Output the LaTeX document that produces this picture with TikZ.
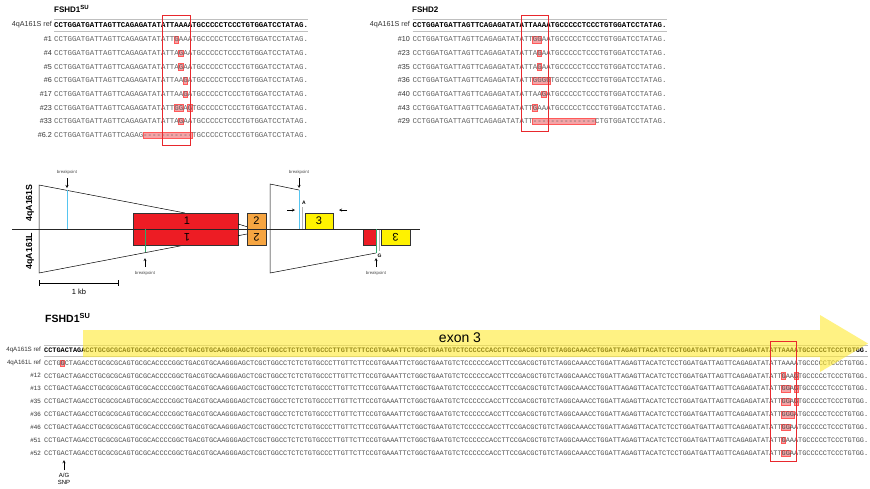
\documentclass[tikz,border=0pt]{standalone}
\usepackage{fontspec}
\setmainfont{Liberation Sans}
\newfontfamily\seqmono[Ligatures=TeXOff]{Liberation Mono}
\usepackage{xcolor}
\usepackage{tikz}
\usetikzlibrary{positioning}

\definecolor{exred}{HTML}{ED1C24}
\definecolor{exorange}{HTML}{F6A541}
\definecolor{exyellow}{HTML}{FFF200}
\definecolor{bpblue}{HTML}{56C5F0}
\definecolor{bpgreen}{HTML}{2EAA6A}
\definecolor{arrowyellow}{HTML}{FFE930}
\definecolor{hlred}{HTML}{F4A3A6}
\definecolor{boxred}{HTML}{E8282D}

% sequence pieces
\newcommand{\toppre}{CCTGGATGATTAGTTCAGAGATATATT}
\newcommand{\toppost}{TGCCCCCTCCCTGTGGATCCTATAG.}
\newcommand{\botmid}{CTAGACCTGCGCGCAGTGCGCACCCCGGCTGACGTGCAAGGGAGCTCGCTGGCCTCTCTGTGCCCTTGTTCTTCCGTGAAATTCTGGCTGAATGTCTCCCCCCACCTTCCGACGCTGTCTAGGCAAACCTGGATTAGAGTTACATCTCCTGGATGATTAGTTCAGAGATATATT}
\newcommand{\botpost}{TGCCCCCTCCCTGTGG.}

% x0, pitch, y, first col, last col
\newcommand{\hlcol}[5]{\draw[hl] ({#1+#2*#4},{#3-3.2}) rectangle ({#1+#2*(#5+1)},{#3+3.2});}

\tikzset{
  hdr/.style={anchor=west, font=\bfseries\fontsize{8}{9}\selectfont},
  rowlab/.style={anchor=east, font=\fontsize{7.2}{8}\selectfont, text=black!80},
  botlab/.style={anchor=east, font=\fontsize{6.2}{7}\selectfont, text=black!80},
  seqtop/.style={anchor=west, font=\seqmono\fontsize{7.42}{8}\selectfont, text=black!62},
  seqref/.style={anchor=west, font=\seqmono\bfseries\fontsize{7.42}{8}\selectfont, text=black},
  seqbot/.style={anchor=west, font=\seqmono\fontsize{6.867}{8}\selectfont, text=black!70},
  seqbotref/.style={anchor=west, font=\seqmono\bfseries\fontsize{6.867}{8}\selectfont, text=black},
  hl/.style={fill=hlred, draw=red!65, line width=0.4pt},
  mutbox/.style={draw=boxred, line width=0.9pt},
  refline/.style={draw=black!25, line width=0.6pt},
  exon/.style={draw=black!80, line width=0.4pt, minimum height=32pt},
  exnum/.style={font=\fontsize{11}{12}\selectfont},
  bp/.style={font=\fontsize{4.3}{5}\selectfont, text=black!70},
  bparrow/.style={->, line width=0.4pt},
  trap/.style={draw=black, line width=0.5pt},
}

\begin{document}
\begin{tikzpicture}[x=1pt, y=-1pt, >=stealth, every node/.style={inner sep=0pt}]
\useasboundingbox (0,0) rectangle (870,488);

% ---- FSHD1 SU (top left)
\node[hdr] (t1) at (54,9) {FSHD1\textsuperscript{SU}};
\draw[refline] (54,19) -- (308,19) (54,31) -- (308,31);
\hlcol{54}{4.45}{39.5}{27}{27}
\hlcol{54}{4.45}{53.2}{28}{28}
\hlcol{54}{4.45}{66.8}{28}{28}
\hlcol{54}{4.45}{80.5}{29}{29}
\hlcol{54}{4.45}{94.1}{29}{29}
\hlcol{54}{4.45}{107.8}{27}{28}
\hlcol{54}{4.45}{107.8}{30}{30}
\hlcol{54}{4.45}{121.4}{28}{28}
\hlcol{54}{4.45}{135.1}{20}{30}
\node[rowlab] (a0) at (52,25) {4qA161S ref};
\node[seqref] (sa0) at (54,25) {\toppre AAAA\toppost};
\node[rowlab] (a1) at (52,39.5) {\#1};
\node[seqtop] (sa1) at (54,39.5) {\toppre GAAA\toppost};
\node[rowlab] (a2) at (52,53.2) {\#4};
\node[seqtop] (sa2) at (54,53.2) {\toppre AGAA\toppost};
\node[rowlab] (a3) at (52,66.8) {\#5};
\node[seqtop] (sa3) at (54,66.8) {\toppre AGAA\toppost};
\node[rowlab] (a4) at (52,80.5) {\#6};
\node[seqtop] (sa4) at (54,80.5) {\toppre AAGA\toppost};
\node[rowlab] (a5) at (52,94.1) {\#17};
\node[seqtop] (sa5) at (54,94.1) {\toppre AAGA\toppost};
\node[rowlab] (a6) at (52,107.8) {\#23};
\node[seqtop] (sa6) at (54,107.8) {\toppre GGAG\toppost};
\node[rowlab] (a7) at (52,121.4) {\#33};
\node[seqtop] (sa7) at (54,121.4) {\toppre AGAA\toppost};
\node[rowlab] (a8) at (52,135.1) {\#6.2};
\node[seqtop] (sa8) at (54,135.1) {CCTGGATGATTAGTTCAGAG-----------TGCCCCCTCCCTGTGGATCCTATAG.};
\draw[mutbox] (162.5,15) rectangle (190.5,145);

% ---- FSHD2 (top right)
\node[hdr] (t2) at (412,10) {FSHD2};
\draw[refline] (412.5,19) -- (667,19) (412.5,31) -- (667,31);
\hlcol{412.5}{4.45}{39.5}{27}{28}
\hlcol{412.5}{4.45}{53.2}{28}{28}
\hlcol{412.5}{4.45}{66.8}{28}{28}
\hlcol{412.5}{4.45}{80.5}{27}{30}
\hlcol{412.5}{4.45}{94.1}{29}{29}
\hlcol{412.5}{4.45}{107.8}{27}{27}
\hlcol{412.5}{4.45}{121.4}{27}{40}
\node[rowlab] (b0) at (410,25) {4qA161S ref};
\node[seqref] (sb0) at (412.5,25) {\toppre AAAA\toppost};
\node[rowlab] (b1) at (410,39.5) {\#10};
\node[seqtop] (sb1) at (412.5,39.5) {\toppre GGAA\toppost};
\node[rowlab] (b2) at (410,53.2) {\#23};
\node[seqtop] (sb2) at (412.5,53.2) {\toppre AGAA\toppost};
\node[rowlab] (b3) at (410,66.8) {\#35};
\node[seqtop] (sb3) at (412.5,66.8) {\toppre AGAA\toppost};
\node[rowlab] (b4) at (410,80.5) {\#36};
\node[seqtop] (sb4) at (412.5,80.5) {\toppre GGGG\toppost};
\node[rowlab] (b5) at (410,94.1) {\#40};
\node[seqtop] (sb5) at (412.5,94.1) {\toppre AAGA\toppost};
\node[rowlab] (b6) at (410,107.8) {\#43};
\node[seqtop] (sb6) at (412.5,107.8) {\toppre GAAA\toppost};
\node[rowlab] (b7) at (410,121.4) {\#29};
\node[seqtop] (sb7) at (412.5,121.4) {\toppre --------------CTGTGGATCCTATAG.};
\draw[mutbox] (521.7,15) rectangle (548.3,131);

% ---- D4Z4 / pLAM region
\draw[trap] (185,213) -- (39,185) -- (39,273) -- (185,245);
\draw[trap] (299,190) -- (270,184) -- (270,273) -- (376,253);
\node[exon, fill=exred, minimum width=105pt] (ex1) at (185.5,229) {};
\node[exon, fill=exorange, minimum width=19pt] (ex2) at (256.5,229) {};
\node[exon, fill=exyellow, minimum width=28pt, minimum height=16pt] (ex3s) at (319,221) {};
\node[exon, fill=exred, minimum width=13pt, minimum height=16pt] (ex3r) at (369.5,237) {};
\node[exon, fill=exyellow, minimum width=29pt, minimum height=16pt] (ex3l) at (395.5,237) {};
\node[exnum] (n1s) at (187,221) {1};
\node[exnum, rotate=180] (n1l) at (187,237) {1};
\node[exnum] (n2s) at (256.5,221) {2};
\node[exnum, rotate=180] (n2l) at (256.5,237) {2};
\node[exnum] (n3s) at (319,221) {3};
\node[exnum, rotate=180] (n3l) at (395.5,237) {3};
\draw[trap] ([yshift=5pt]ex1.east) -- ([yshift=2.3pt]ex2.west);
\draw[trap] ([yshift=-6.7pt]ex1.east) -- ([yshift=-5pt]ex2.west);
\draw[line width=0.9pt, black!85] (12,229) -- (420,229);

\draw[bpblue, line width=1pt] (67,190) -- (67,229);
\draw[bpblue, line width=1pt] (299,190) -- (299,229);
\draw[bpgreen, line width=1pt] (145,229) -- (145,252);
\draw[bpgreen, line width=1pt] (376,229) -- (376,253);
\draw[black!30, line width=1pt] (302.5,207) -- (302.5,228.5);
\draw[black!30, line width=1pt] (379,229.5) -- (379,251);
\node[font=\bfseries\fontsize{5}{6}\selectfont] (snpA) at (304,203) {A};
\node[font=\bfseries\fontsize{5}{6}\selectfont] (snpG) at (379.5,256) {G};

\node[bp] (bp1) at (67,172) {breakpoint};
\draw[bparrow] (bp1) ++(0,6) -- ++(0,10);
\node[bp] (bp2) at (145,273) {breakpoint};
\draw[bparrow] (bp2) ++(0,-6) -- ++(0,-9);
\node[bp] (bp3) at (299,172) {breakpoint};
\draw[bparrow] (bp3) ++(0,6) -- ++(0,10);
\node[bp] (bp4) at (376,273) {breakpoint};
\draw[bparrow] (bp4) ++(0,-6) -- ++(0,-9);

\draw[bparrow] (287,210) -- (295,210);
\draw[bparrow] (347,210) -- (339,210);

\node[font=\bfseries\fontsize{8.8}{10}\selectfont, rotate=90] (hapS) at (30,203) {4qA161S};
\node[font=\bfseries\fontsize{8.8}{10}\selectfont, rotate=90] (hapL) at (30,251) {4qA161L};

\draw[|-|, line width=0.6pt] (39,283) -- (119,283);
\node[font=\fontsize{7.5}{9}\selectfont] (kb) at (79,292) {1 kb};

% ---- FSHD1 SU exon 3 (bottom)
\node[hdr, font=\bfseries\fontsize{10.5}{12}\selectfont] (t3) at (45,318) {FSHD1\textsuperscript{SU}};
\draw[refline] (44,345) -- (868,345) (44,356) -- (868,356);
\hlcol{44}{4.12}{362.9}{4}{4}
\hlcol{44}{4.12}{375.8}{179}{179}
\hlcol{44}{4.12}{375.8}{182}{182}
\hlcol{44}{4.12}{388.7}{179}{180}
\hlcol{44}{4.12}{388.7}{182}{182}
\hlcol{44}{4.12}{401.6}{179}{180}
\hlcol{44}{4.12}{401.6}{182}{182}
\hlcol{44}{4.12}{414.5}{179}{181}
\hlcol{44}{4.12}{427.4}{179}{180}
\hlcol{44}{4.12}{440.3}{179}{179}
\hlcol{44}{4.12}{453.2}{179}{180}
\node[botlab] (c0) at (41,350) {4qA161S ref};
\node[seqbotref] (sc0) at (44,350) {CCTGA\botmid{}AAAA\botpost};
\node[botlab] (c1) at (41,362.9) {4qA161L ref};
\node[seqbot] (sc1) at (44,362.9) {CCTGG\botmid{}AAAA\botpost};
\node[botlab] (c2) at (41,375.8) {\#12};
\node[seqbot] (sc2) at (44,375.8) {CCTGA\botmid{}GAAG\botpost};
\node[botlab] (c3) at (41,388.7) {\#13};
\node[seqbot] (sc3) at (44,388.7) {CCTGA\botmid{}GGAG\botpost};
\node[botlab] (c4) at (41,401.6) {\#35};
\node[seqbot] (sc4) at (44,401.6) {CCTGA\botmid{}GGAG\botpost};
\node[botlab] (c5) at (41,414.5) {\#36};
\node[seqbot] (sc5) at (44,414.5) {CCTGA\botmid{}GGGA\botpost};
\node[botlab] (c6) at (41,427.4) {\#46};
\node[seqbot] (sc6) at (44,427.4) {CCTGA\botmid{}GGAA\botpost};
\node[botlab] (c7) at (41,440.3) {\#51};
\node[seqbot] (sc7) at (44,440.3) {CCTGA\botmid{}GAAA\botpost};
\node[botlab] (c8) at (41,453.2) {\#52};
\node[seqbot] (sc8) at (44,453.2) {CCTGA\botmid{}GGAA\botpost};

% exon 3 arrow over the reference
\fill[arrowyellow, opacity=0.6] (83,330) -- (820,330) -- (820,315) -- (868,343.5)
  -- (820,372) -- (820,357) -- (83,357) -- cycle;
\node[font=\fontsize{14}{16}\selectfont] (exlab) at (460,338) {exon 3};
\draw[mutbox] (770.7,341) rectangle (796.5,461);

\node[font=\fontsize{6}{7}\selectfont, align=center] (snp) at (64,479) {A/G\\SNP};
\draw[bparrow] ([yshift=3pt]snp.north) -- ++(0,-10);
\end{tikzpicture}
\end{document}
